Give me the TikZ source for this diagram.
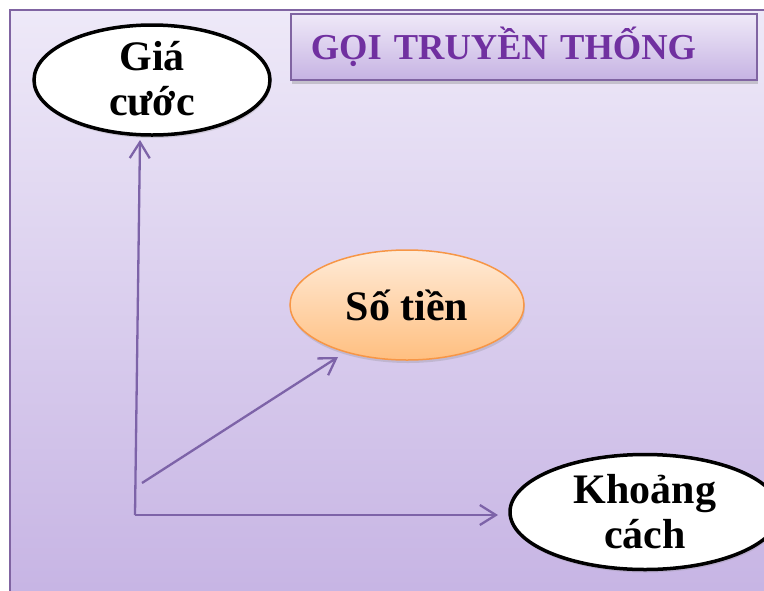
\documentclass[tikz,border=0pt]{standalone}
\usepackage{fontspec}
\setmainfont{Liberation Serif}
\usetikzlibrary{
  shapes.geometric,
  shadows,
  arrows.meta,
  positioning
}
\definecolor{frameline}{HTML}{8064A2}
\definecolor{bgtop}{HTML}{EEE9F8}
\definecolor{bgbottom}{HTML}{C5B2E3}
\definecolor{titlepurple}{HTML}{7030A0}
\definecolor{boxtop}{HTML}{EFE9F8}
\definecolor{boxbottom}{HTML}{C6B3E3}
\definecolor{axisline}{HTML}{7D63A8}
\definecolor{peachtop}{HTML}{FFEBD8}
\definecolor{peachbottom}{HTML}{FFBF80}
\definecolor{peachline}{HTML}{F79646}

\begin{document}
\begin{tikzpicture}[x=1pt, y=-1pt,
  word/.style={font=\fontsize{42}{45}\selectfont\bfseries, align=center},
  bubble/.style={ellipse, draw=black, line width=3.5pt, fill=white,
    drop shadow={shadow xshift=1pt, shadow yshift=-3pt, opacity=0.25}},
  peach/.style={ellipse, draw=peachline, line width=1.5pt,
    top color=peachtop, bottom color=peachbottom, inner sep=0pt,
    minimum width=234pt, minimum height=110pt,
    drop shadow={shadow xshift=1pt, shadow yshift=-3pt, opacity=0.25}},
  titlebox/.style={rectangle, draw=frameline, line width=1.5pt,
    top color=boxtop, bottom color=boxbottom,
    text width=426pt, align=left, inner xsep=20pt,
    minimum height=66pt, text=titlepurple,
    font=\fontsize{36.5}{40}\selectfont\bfseries,
    drop shadow={shadow xshift=1pt, shadow yshift=-4pt, opacity=0.35}},
  axis/.style={draw=axisline, line width=2.3pt,
    -{Straight Barb[length=16pt, width=20pt, line width=2.3pt]}}
]
  \useasboundingbox (0,0) rectangle (764,590);
  \clip (0,0) rectangle (764,590);
  \fill[white] (0,0) rectangle (764,590);
  % background panel
  \draw[frameline, line width=2pt, top color=bgtop, bottom color=bgbottom]
    (10,10) rectangle (790,620);

  % title
  \node[titlebox, anchor=west] (title) at (290,47) {GỌI TRUYỀN THỐNG};

  % ellipses
  \node[bubble, minimum width=236pt, minimum height=110pt,
    label={[word, yshift=1pt]center:{Giá\\cước}}] (gia) at (152,80) {};
  \node[peach, word] (tien) at (407,305) {Số tiền};
  \node[bubble, minimum width=270pt, minimum height=115pt,
    label={[word]center:{Khoảng\\cách}}] (khoang) at (645,512) {};

  % axes
  \coordinate (origin) at (135,515);
  \coordinate (ytip) at (140,140);
  \coordinate (xtip) at (498,515);
  \coordinate (foot) at (142,483);
  \coordinate (diagtip) at (338,357);

  \draw[axis] (origin) -- (ytip);
  \draw[axis] (origin) -- (xtip);
  \draw[axis] (foot) -- (diagtip);
\end{tikzpicture}
\end{document}
